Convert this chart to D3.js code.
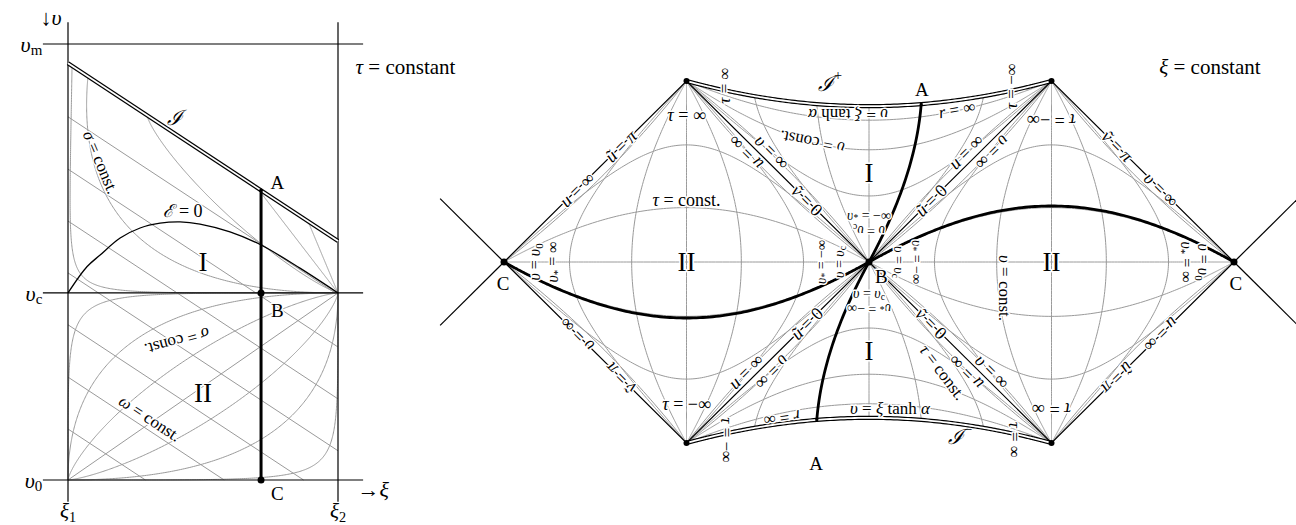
<!DOCTYPE html>
<html><head><meta charset="utf-8">
<script src="https://cdn.jsdelivr.net/npm/d3@7"></script>
<style>body{margin:0;background:#fff}svg{display:block}</style>
</head><body><svg id="c" width="1296" height="525"></svg>
<script>
// ================= DATA =================
// left panel (ξ, υ) diagram, υ0 = 0, υm = 1
const leftVLevels = [0, 0.429, 1];
const leftVLabels = ["υ_0", "υ_c", "υ_m"];
const leftXiLevels = [0, 1];
const leftXiLabels = ["ξ_1", "ξ_2"];
const scriLeftXi = [0, 1];
const scriLeftV = [0.956, 0.548];
const omegaIntercepts = [0.833, 0.713, 0.594, 0.475, 0.356, 0.236, 0.117];
const sigmaIStarts = [0.015, 0.074, 0.293, 0.70, 0.889];
const sigmaIExps = [0.25, 0.5, 0.87, 1, 1];
const sigmaIIExpsL = [0.28, 0.5, 0.75];
const sigmaIIExpsR = [0.75, 0.5, 0.28];
const epsZeroXi = [0, 0.070, 0.119, 0.193, 0.267, 0.341, 0.415, 0.489, 0.600, 0.715, 0.859, 1];
const epsZeroV = [0.429, 0.489, 0.516, 0.555, 0.578, 0.589, 0.592, 0.587, 0.569, 0.539, 0.486, 0.429];
const worldlineXi = 0.715;

// right panel (conformal diagram)
const vertexNames = ["C", "T1", "B", "T2", "C'", "B2", "B1"];
const vertexU = [-2, -1, 0, 1, 2, 1, -1];
const vertexW = [0, -1, 0, -1, 0, 1, 1];
const diamondTau = [-0.77, -0.31, 0, 0.31, 0.77];
const diamondZeta = [-0.76, -0.31, 0, 0.31, 0.76];
const regionITau = [0.22, 0.40, 0.75];
const regionIZeta = [-0.75, -0.3, 0, 0.75];
const scriTau = 0.14;
const thickDiamondTau = 0.32;
const thickRegionIZeta = 0.3;
const edgeArcBulge = 0.045;

// ================= SETUP =================
const svg = d3.select("#c");
const GRAY = "#9a9a9a";
const FONT = "'Liberation Serif','DejaVu Serif',serif";
const gGray = svg.append("g").attr("fill", "none").attr("stroke", GRAY).attr("stroke-width", 1);
const gBlack = svg.append("g").attr("fill", "none").attr("stroke", "#000").attr("stroke-width", 1.2);
const gDouble = svg.append("g").attr("fill", "none");
const gThick = svg.append("g").attr("fill", "none").attr("stroke", "#000").attr("stroke-width", 2.8);
const gDots = svg.append("g").attr("fill", "#000");
const gLab = svg.append("g").attr("font-family", FONT).attr("fill", "#000");

const ITALIC = new Set(Array.from("uvrυτξσωπαũṽℰℐ"));
const SP = "\u2005";
function label(str, x, y, o = {}) {
  const S = o.size || 18;
  if (!str.includes(" =")) str = str.replace(/=/g, (o.tight ? "\u200A" : SP) + "=" + (o.tight ? "\u200A" : SP));
  const t = gLab.append("text")
    .attr("transform", `translate(${x},${y}) rotate(${o.rot || 0})`)
    .attr("text-anchor", o.anchor || "middle")
    .attr("dominant-baseline", "central")
    .attr("font-size", S);
  if (o.halo !== false) {
    t.attr("stroke", "#fff").attr("stroke-width", o.haloW || 3)
      .attr("stroke-linejoin", "round").attr("paint-order", "stroke");
  }
  const ch = Array.from(str);
  let i = 0, cur = 0;
  while (i < ch.length) {
    let c = ch[i];
    if (c === "_" || c === "^") {
      let s = ""; i++;
      if (ch[i] === "{") { i++; while (ch[i] !== "}") { s += ch[i]; i++; } i++; }
      else { s = ch[i]; i++; }
      const target = c === "_" ? 0.28 * S : -0.4 * S;
      t.append("tspan").attr("font-size", 0.68 * S).attr("dy", target - cur).text(s);
      cur = target;
      continue;
    }
    const it = ITALIC.has(c);
    let s = c; i++;
    while (i < ch.length && ch[i] !== "_" && ch[i] !== "^" && ITALIC.has(ch[i]) === it) { s += ch[i]; i++; }
    const sp = t.append("tspan").attr("dy", -cur).text(s);
    cur = 0;
    if (it) sp.attr("font-style", "italic");
  }
  return t;
}

// ================= LEFT PANEL =================
const xL = d3.scaleLinear().domain([0, 1]).range([68, 338]);
const yL = d3.scaleLinear().domain([0, 1]).range([480, 44]);
const lineL = d3.line().x(d => xL(d[0])).y(d => yL(d[1]));
const vc = leftVLevels[1];
const scriSlope = (scriLeftV[1] - scriLeftV[0]) / (scriLeftXi[1] - scriLeftXi[0]);

function superArc(O, Pu, Pw, k, n = 300) {
  const pts = [];
  for (let i = 0; i <= n; i++) {
    const th = i / n * Math.PI / 2;
    const a = Math.pow(Math.cos(th), 2 / k), b = Math.pow(Math.sin(th), 2 / k);
    pts.push([O[0] + a * (Pu[0] - O[0]) + b * (Pw[0] - O[0]), O[1] + a * (Pu[1] - O[1]) + b * (Pw[1] - O[1])]);
  }
  return pts;
}
omegaIntercepts.forEach(c => {
  const xe = Math.min(1, c / (-scriSlope));
  gGray.append("path").attr("d", lineL([[0, c], [xe, c + scriSlope * xe]]));
});
sigmaIStarts.forEach((s, i) => {
  const P0 = [s, scriLeftV[0] + scriSlope * s];
  gGray.append("path").attr("d", lineL(superArc([0, vc], P0, [1, vc], sigmaIExps[i])));
});
sigmaIIExpsL.forEach(k => gGray.append("path").attr("d", lineL(superArc([0, vc], [0, 0], [1, vc], k))));
gGray.append("path").attr("d", lineL([[0, 0], [1, vc]]));
sigmaIIExpsR.forEach(k => gGray.append("path").attr("d", lineL(superArc([1, 0], [0, 0], [1, vc], k))));

leftXiLevels.forEach(x => gBlack.append("path").attr("d", lineL([[x, -0.05], [x, 1.05]])));
leftVLevels.forEach(v => gBlack.append("path").attr("d", lineL([[-0.093, v], [1.093, v]])));
gBlack.append("path").attr("stroke-width", 1.3)
  .attr("d", d3.line().x(d => xL(d[0])).y(d => yL(d[1])).curve(d3.curveCatmullRom)(epsZeroXi.map((x, i) => [x, epsZeroV[i]])));
const scriL = lineL(scriLeftXi.map((x, i) => [x, scriLeftV[i]]));
gDouble.append("path").attr("d", scriL).attr("stroke", "#000").attr("stroke-width", 4.2);
gDouble.append("path").attr("d", scriL).attr("stroke", "#fff").attr("stroke-width", 1.8);
const vA = scriLeftV[0] + scriSlope * worldlineXi;
gThick.append("path").attr("d", lineL([[worldlineXi, 0], [worldlineXi, vA]])).attr("stroke-width", 3);
gDots.append("circle").attr("cx", xL(worldlineXi)).attr("cy", yL(vc)).attr("r", 3.5);
gDots.append("circle").attr("cx", xL(worldlineXi)).attr("cy", yL(0)).attr("r", 3.5);
gDots.append("circle").attr("cx", xL(worldlineXi)).attr("cy", yL(vA)).attr("r", 1.8);

leftVLevels.forEach((v, i) => label(leftVLabels[i], xL(-0.095), yL(v), { anchor: "end", size: 22, halo: false }));
leftXiLevels.forEach((x, i) => label(leftXiLabels[i], xL(x), yL(-0.072), { size: 21, halo: false }));
label("↓υ", xL(-0.063), yL(1.062), { size: 22, halo: false });
label("→ξ", xL(1.13), yL(-0.02), { size: 22, halo: false });
label("τ = constant", xL(1.25), yL(0.947), { size: 21, halo: false });
label("ℐ", xL(0.396), yL(0.83), { size: 21 });
label("A", xL(0.775), yL(0.683), { size: 19 });
label("B", xL(0.775), yL(0.39), { size: 19 });
label("C", xL(0.775), yL(-0.03), { size: 19 });
label("ℰ=0", xL(0.426), yL(0.617), { size: 18 });
label("I", xL(0.5), yL(0.5), { size: 27 });
label("II", xL(0.5), yL(0.2), { size: 27 });
label("σ=const.", xL(0.122), yL(0.729), { size: 17, rot: 67 });
label("σ=const.", xL(0.404), yL(0.317), { size: 17, rot: 165 });
label("ω=const.", xL(0.304), yL(0.142), { size: 17, rot: 33.4 });

// ================= RIGHT PANEL =================
const xR = d3.scaleLinear().domain([-2, 2]).range([504, 1234]);
const yR = d3.scaleLinear().domain([-1, 1]).range([81, 443]);
const lineR = d3.line().x(d => xR(d[0])).y(d => yR(d[1]));
const V = {};
vertexNames.forEach((n, i) => V[n] = [vertexU[i], vertexW[i]]);
const regions = {
  left: { cu: -1, cw: 0, sp: 1, sq: 1, c: [-1, 0] },
  right: { cu: 1, cw: 0, sp: -1, sq: -1, c: [1, 0] },
  top: { cu: 0, cw: -1, sp: 1, sq: 1, c: [0, -0.6] },
  bottom: { cu: 0, cw: 1, sp: -1, sq: -1, c: [0, 0.6] }
};
function rp(r, z, t) {
  const a = Math.tanh(z + t), b = Math.tanh(z - t);
  return [r.cu + r.sp * (a + b) / 2, r.cw + r.sq * (a - b) / 2];
}
const span = d3.range(-7, 7.0001, 0.02);
const tauCurve = (r, t) => span.map(z => rp(r, z, t));
const zetaCurve = (r, z, t0 = -7) => d3.range(t0, 7.0001, 0.02).map(t => rp(r, z, t));

["left", "right"].forEach(k => {
  diamondTau.forEach(t => gGray.append("path").attr("d", lineR(tauCurve(regions[k], t))));
  diamondZeta.forEach(z => gGray.append("path").attr("d", lineR(zetaCurve(regions[k], z))));
});
["top", "bottom"].forEach(k => {
  regionITau.forEach(t => gGray.append("path").attr("d", lineR(tauCurve(regions[k], t))));
  regionIZeta.forEach(z => gGray.append("path").attr("d", lineR(zetaCurve(regions[k], z, scriTau))));
});
const edgeArcs = [["C", "T1", "left"], ["T1", "B", "left"], ["B", "B1", "left"], ["B1", "C", "left"],
  ["T1", "B", "top"], ["B", "T2", "top"], ["B1", "B", "bottom"], ["B", "B2", "bottom"],
  ["B", "T2", "right"], ["T2", "C'", "right"], ["C'", "B2", "right"], ["B2", "B", "right"]];
edgeArcs.forEach(([p, q, r]) => {
  const P = V[p], Q = V[q], M = [(P[0] + Q[0]) / 2, (P[1] + Q[1]) / 2];
  let n = [-(Q[1] - P[1]), Q[0] - P[0]]; const L = Math.hypot(n[0], n[1]); n = [n[0] / L, n[1] / L];
  const cc = regions[r].c;
  if ((cc[0] - M[0]) * n[0] + (cc[1] - M[1]) * n[1] < 0) n = [-n[0], -n[1]];
  const Cp = [M[0] + 2 * edgeArcBulge * n[0], M[1] + 2 * edgeArcBulge * n[1]];
  const pts = d3.range(0, 1.0001, 0.02).map(s => [
    (1 - s) * (1 - s) * P[0] + 2 * s * (1 - s) * Cp[0] + s * s * Q[0],
    (1 - s) * (1 - s) * P[1] + 2 * s * (1 - s) * Cp[1] + s * s * Q[1]]);
  gGray.append("path").attr("d", lineR(pts));
});

gBlack.append("path").attr("d", lineR(["C", "T1", "B", "T2", "C'", "B2", "B", "B1", "C"].map(n => V[n])));
const ext = 0.35;
gBlack.append("path").attr("d", lineR([[V.C[0] - ext, V.C[1] - ext], V.C]));
gBlack.append("path").attr("d", lineR([[V.C[0] - ext, V.C[1] + ext], V.C]));
gBlack.append("path").attr("d", lineR([[V["C'"][0] + ext, V["C'"][1] - ext], V["C'"]]));
gBlack.append("path").attr("d", lineR([[V["C'"][0] + ext, V["C'"][1] + ext], V["C'"]]));

["top", "bottom"].forEach(k => {
  const d = lineR(tauCurve(regions[k], scriTau));
  gDouble.append("path").attr("d", d).attr("stroke", "#000").attr("stroke-width", 4.2);
  gDouble.append("path").attr("d", d).attr("stroke", "#fff").attr("stroke-width", 1.8);
});
gThick.append("path").attr("d", lineR(tauCurve(regions.left, thickDiamondTau)));
gThick.append("path").attr("d", lineR(tauCurve(regions.right, thickDiamondTau)));
gThick.append("path").attr("d", lineR(zetaCurve(regions.top, thickRegionIZeta, scriTau)));
gThick.append("path").attr("d", lineR(zetaCurve(regions.bottom, thickRegionIZeta, scriTau)));
["T1", "T2", "B1", "B2"].forEach(n => gDots.append("circle").attr("cx", xR(V[n][0])).attr("cy", yR(V[n][1])).attr("r", 3));
["C", "C'", "B"].forEach(n => gDots.append("circle").attr("cx", xR(V[n][0])).attr("cy", yR(V[n][1])).attr("r", 3.5));
[rp(regions.top, thickRegionIZeta, scriTau), rp(regions.bottom, thickRegionIZeta, scriTau)]
  .forEach(p => gDots.append("circle").attr("cx", xR(p[0])).attr("cy", yR(p[1])).attr("r", 1.6));

function edgeLabel(p, q, t, text, rot, side, off, size) {
  const P = [xR(V[p][0]), yR(V[p][1])], Q = [xR(V[q][0]), yR(V[q][1])];
  let x = P[0] + t * (Q[0] - P[0]), y = P[1] + t * (Q[1] - P[1]);
  if (side) { x += side[0] * off / Math.SQRT2; y += side[1] * off / Math.SQRT2; }
  label(text, x, y, { rot, size: size || 18 });
}
edgeLabel("C", "T1", 0.40, "u=∞", -45);
edgeLabel("C", "T1", 0.64, "ũ=π", -45);
edgeLabel("T2", "C'", 0.36, "ṽ=π", 45);
edgeLabel("T2", "C'", 0.60, "υ=∞", 45);
edgeLabel("C'", "B2", 0.40, "u=∞", 135);
edgeLabel("C'", "B2", 0.64, "ũ=π", 135);
edgeLabel("C", "B1", 0.40, "υ=∞", -135);
edgeLabel("C", "B1", 0.64, "ṽ=π", -135);

edgeLabel("T1", "B", 0.43, "υ=∞", 45, [1, -1], 10);
edgeLabel("T1", "B", 0.36, "u=∞", -135, [-1, 1], 9);
edgeLabel("T1", "B", 0.66, "ṽ=0", 45);
edgeLabel("T2", "B", 0.43, "u=∞", -45, [-1, -1], 10);
edgeLabel("T2", "B", 0.36, "υ=∞", 135, [1, 1], 9);
edgeLabel("T2", "B", 0.66, "ũ=0", -45);
edgeLabel("B1", "B", 0.43, "υ=∞", 135, [1, 1], 10);
edgeLabel("B1", "B", 0.36, "u=∞", -45, [-1, -1], 9);
edgeLabel("B1", "B", 0.66, "ũ=0", -45);
edgeLabel("B2", "B", 0.43, "u=∞", -135, [-1, 1], 10);
edgeLabel("B2", "B", 0.36, "υ=∞", 45, [1, -1], 9);
edgeLabel("B2", "B", 0.66, "ṽ=0", 45);

const R = (s, u, w, o = {}) => label(s, xR(u), yR(w), o);
R("ξ = constant", 1.868, -1.077, { size: 21, halo: false });
R("τ=∞", -1, -0.81);
R("τ=−∞", -1, 0.785);
R("τ=−∞", 1, -0.785, { rot: 180 });
R("τ=∞", 1, 0.81, { rot: 180 });
R("τ=const.", -1, -0.345);
R("υ=const.", 0.745, 0.144, { rot: 90, size: 17 });
R("τ=∞", -0.795, -0.975, { rot: -90, size: 17 });
R("τ=−∞", 0.778, -0.972, { rot: -90, size: 17 });
R("τ=−∞", -0.778, 0.985, { rot: 90, size: 17 });
R("τ=∞", 0.8, 0.983, { rot: 90, size: 17 });
R("ℐ^+", -0.214, -0.985, { size: 21, halo: false });
R("ℐ^−", 0.499, 0.967, { size: 21, halo: false });
R("A", 0.29, -0.955, { size: 19, halo: false });
R("A", -0.29, 1.11, { size: 19, halo: false });
R("B", 0.068, 0.075, { size: 19 });
R("C", -2.005, 0.115, { size: 19 });
R("C", 2.01, 0.115, { size: 19 });
R("I", 0, -0.49, { size: 27 });
R("I", 0, 0.49, { size: 27 });
R("II", -1, 0, { size: 27 });
R("II", 1, 0, { size: 27 });
R("υ=ξ tanh α", -0.115, -0.812, { size: 17, rot: 180 });
R("υ=ξ tanh α", 0.115, 0.807, { size: 17 });
R("υ=const.", -0.312, -0.66, { size: 17, rot: 191 });
R("τ=const.", 0.405, 0.608, { size: 17, rot: 53 });
R("r=∞", 0.482, -0.845, { size: 17, rot: -10 });
R("r=∞", -0.477, 0.865, { size: 17, rot: 172 });
// labels clustered round B
R("υ_*=−∞", 0, -0.262, { size: 14 });
R("υ=υ_c", 0, -0.17, { size: 14, rot: 180 });
R("υ=υ_c", 0, 0.17, { size: 14 });
R("υ_*=−∞", 0, 0.262, { size: 14, rot: 180 });
R("υ_*=−∞", -0.262, 0, { size: 14, rot: -90 });
R("υ=υ_c", -0.165, 0, { size: 14, rot: -90 });
R("υ=υ_c", 0.165, 0, { size: 14, rot: 90 });
R("υ_*=−∞", 0.262, 0, { size: 14, rot: 90 });
// labels round C
R("υ=υ_0", -1.835, 0, { size: 16, rot: -90 });
R("υ_*=∞", -1.735, 0, { size: 16, rot: -90 });
R("υ_*=∞", 1.74, 0, { size: 16, rot: 90 });
R("υ=υ_0", 1.835, 0, { size: 16, rot: 90 });
</script></body></html>
